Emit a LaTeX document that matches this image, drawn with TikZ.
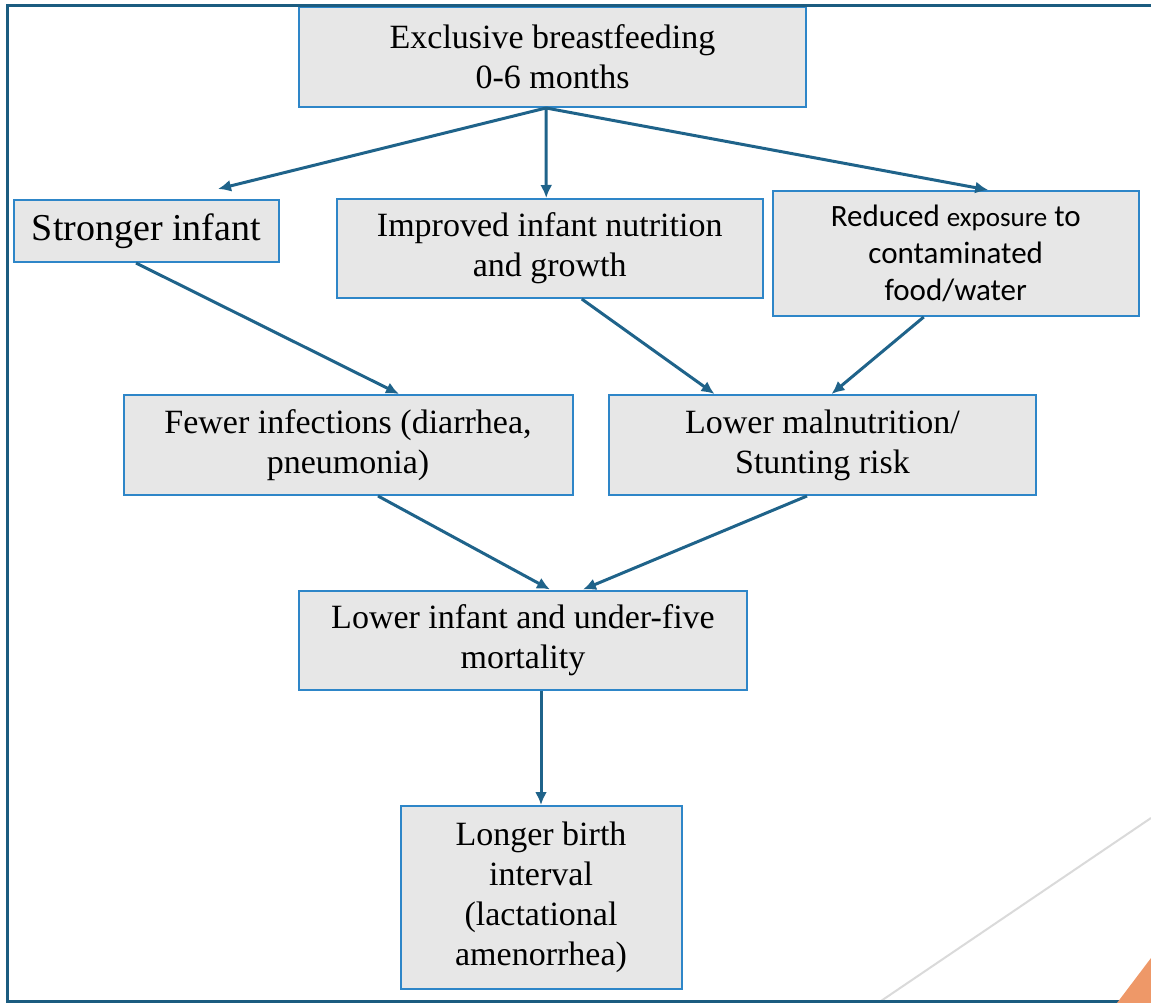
\documentclass[tikz,border=0pt]{standalone}
\usepackage{fontspec}
\setmainfont{Liberation Serif}
\newfontfamily\reducedfont{Carlito}
\usepackage{xcolor}
\usetikzlibrary{shapes,arrows.meta}
\usetikzlibrary{calc}

\definecolor{boxgray}{RGB}{231,231,231}
\definecolor{boxblue}{RGB}{46,134,200}
\definecolor{arrowblue}{RGB}{31,99,138}
\definecolor{frameblue}{RGB}{27,92,128}
\definecolor{slideorange}{RGB}{238,152,104}
\definecolor{slidegray}{RGB}{218,218,218}

\begin{document}
\begin{tikzpicture}[x=1pt, y=-1pt,
			block/.style={
					rectangle,
					draw=boxblue,
					fill=boxgray,
					line width=2pt,
					align=center,
					inner sep=0pt,
					font=\rmfamily\fontsize{34}{40}\selectfont
				},
			line/.style={draw=arrowblue, line width=3pt, -{Latex[length=13pt,width=12pt]}}
		]
		\useasboundingbox (0,0) rectangle (1151,1003);
		% Place nodes
		\node [block, minimum width=507pt, minimum height=100pt] (feeding) at (552.5,57) {Exclusive breastfeeding\\0-6 months};
		\node [block, minimum width=265pt, minimum height=62pt, font=\rmfamily\fontsize{38}{44}\selectfont] (stronger) at (146.5,231) {Stronger infant};
		\node [block, minimum width=426pt, minimum height=99pt] (improved) at (549.75,248.5) {Improved infant nutrition\\and growth};
		\node [block, minimum width=366pt, minimum height=125pt, font=\reducedfont\fontsize{31}{37}\selectfont] (reduced) at (955.75,253.5) {Reduced {\fontsize{27}{37}\selectfont exposure} to\\contaminated\\food/water};
		\node [block, minimum width=449pt, minimum height=100pt] (fewer) at (348,445) {Fewer infections (diarrhea,\\pneumonia)};
		\node [block, minimum width=427pt, minimum height=100pt] (lowmal) at (822.5,445) {Lower malnutrition/\\Stunting risk};
		\node [block, minimum width=448pt, minimum height=99pt] (mortality) at (523,640) {Lower infant and under-five\\mortality};
		\node [block, minimum width=281pt, minimum height=183pt] (interval) at (541,897.5) {Longer birth\\interval\\(lactational\\amenorrhea)};
		% Draw edges
		\path [line] ($(feeding.south)+(-6.5,0)$) -- ($(stronger.north)+(71.5,-10)$);
		\path [line] ($(feeding.south)+(-6.5,0)$) -- ($(improved.north)+(-3.5,0)$);
		\path [line] ($(feeding.south)+(-6.5,0)$) -- ($(reduced.north)+(32.5,0)$);
		\path [line] ($(stronger.south)+(-10.5,0)$) -- ($(fewer.north)+(51,0)$);
		\path [line] ($(improved.south)+(32,0)$) -- ($(lowmal.north)+(-108,0)$);
		\path [line] ($(reduced.south)+(-32,0)$) -- ($(lowmal.north)+(9,0)$);
		\path [line] ($(fewer.south)+(30,0)$) -- ($(mortality.north)+(27,0)$);
		\path [line] ($(lowmal.south)+(-15.5,0)$) -- ($(mortality.north)+(60,0)$);
		\path [line] ($(mortality.south)+(18,0)$) -- (interval.north);
		% Slide frame and corner
		\draw [slidegray, line width=2pt] (878,1003) -- (1151,818);
		\draw [frameblue, line width=3pt] (1151,6) -- (7,6) -- (7,1001) -- (1151,1001);
		\fill [slideorange] (1117,1003) -- (1151,958) -- (1151,1003) -- cycle;
	\end{tikzpicture}
\end{document}
